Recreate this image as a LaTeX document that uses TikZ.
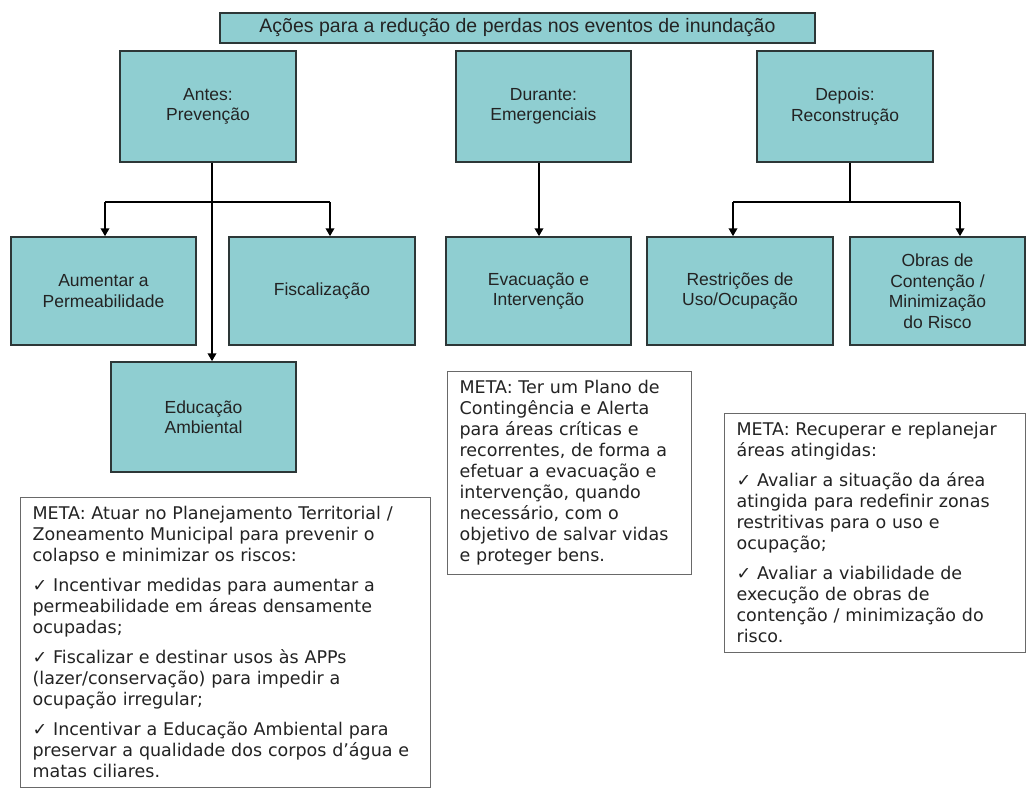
\documentclass[tikz,border=0pt]{standalone}
\usepackage{fontspec}
\setmainfont{Liberation Sans}
\newfontfamily\metafont{DejaVu Sans}
\usetikzlibrary{arrows.meta}
\definecolor{boxfill}{RGB}{143,206,209}
\definecolor{boxline}{RGB}{45,55,55}
\definecolor{metaline}{RGB}{105,105,105}
\definecolor{txt}{RGB}{35,35,35}
\begin{document}
\begin{tikzpicture}[x=1pt,y=-1pt,
  tbox/.style={draw=boxline, fill=boxfill, line width=1.5pt, align=center,
    font=\fontsize{17.5}{20.5}\selectfont, text=txt, inner sep=0pt},
  conn/.style={line width=2.2pt, black},
  arr/.style={conn, -{Triangle[length=8pt,width=8.5pt]}},
  metabox/.style={draw=metaline, fill=white, line width=1.2pt, anchor=north west,
    align=left, inner xsep=12pt, inner ysep=9pt,
    font=\metafont\fontsize{17.5}{21}\selectfont, text=txt}
]
\useasboundingbox (0,0) rectangle (1028,789);
\clip (0,0) rectangle (1028,789);
\fill[white] (0,0) rectangle (1028,789);

% title
\node[tbox, minimum width=595pt, minimum height=30pt, font=\fontsize{19.5}{22}\selectfont] (title) at (517.5,28) {Ações para a redução de perdas nos eventos de inundação};

% top row
\node[tbox, minimum width=176pt, minimum height=111pt] (antes) at (208,106.5) {Antes:\\Prevenção};
\node[tbox, minimum width=175pt, minimum height=111pt] (durante) at (543.5,106.5) {Durante:\\Emergenciais};
\node[tbox, minimum width=176pt, minimum height=111pt] (depois) at (845,106.5) {Depois:\\Reconstrução};

% second row
\node[tbox, minimum width=185pt, minimum height=108pt] (aum) at (103.5,291) {Aumentar a\\Permeabilidade};
\node[tbox, minimum width=186pt, minimum height=108pt] (fisc) at (322,291) {Fiscalização};
\node[tbox, minimum width=185pt, minimum height=108pt] (evac) at (538.5,291) {Evacuação e\\Intervenção};
\node[tbox, minimum width=186pt, minimum height=108pt] (restr) at (740,291) {Restrições de\\Uso/Ocupação};
\node[tbox, minimum width=175pt, minimum height=108pt] (obras) at (937.5,291) {Obras de\\Contenção /\\Minimização\\do Risco};

% third row
\node[tbox, minimum width=185pt, minimum height=110pt] (educ) at (203.5,417) {Educação\\Ambiental};

% connectors
\coordinate (xa) at (212,0);
\coordinate (bl) at (105,202);
\coordinate (br) at (330,202);
\coordinate (xd) at (539,0);
\coordinate (dj) at (850,202);
\coordinate (dl) at (733,202);
\coordinate (dr) at (960,202);

\draw[arr] (antes.south -| xa) -- (educ.north -| xa);
\draw[conn] (bl) -- (br);
\draw[arr] (bl) -- (aum.north -| bl);
\draw[arr] (br) -- (fisc.north -| br);

\draw[arr] (durante.south -| xd) -- (evac.north -| xd);

\draw[conn] (depois.south -| dj) -- (dj);
\draw[conn] (dl) -- (dr);
\draw[arr] (dl) -- (restr.north -| dl);
\draw[arr] (dr) -- (obras.north -| dr);

% META boxes
\node[metabox, text width=386pt] (meta1) at (20,497) {META: Atuar no Planejamento Territorial /\\
Zoneamento Municipal para prevenir o\\
colapso e minimizar os riscos:\\[9pt]
✓ Incentivar medidas para aumentar a\\
permeabilidade em áreas densamente\\
ocupadas;\\[9pt]
✓ Fiscalizar e destinar usos às APPs\\
(lazer/conservação) para impedir a\\
ocupação irregular;\\[9pt]
✓ Incentivar a Educação Ambiental para\\
preservar a qualidade dos corpos d’água e\\
matas ciliares.};

\node[metabox, text width=220pt] (meta2) at (447,371) {META: Ter um Plano de\\
Contingência e Alerta\\
para áreas críticas e\\
recorrentes, de forma a\\
efetuar a evacuação e\\
intervenção, quando\\
necessário, com o\\
objetivo de salvar vidas\\
e proteger bens.};

\node[metabox, text width=277pt] (meta3) at (724,413) {META: Recuperar e replanejar\\
áreas atingidas:\\[9pt]
✓ Avaliar a situação da área\\
atingida para redefinir zonas\\
restritivas para o uso e\\
ocupação;\\[9pt]
✓ Avaliar a viabilidade de\\
execução de obras de\\
contenção / minimização do\\
risco.};
\end{tikzpicture}
\end{document}
